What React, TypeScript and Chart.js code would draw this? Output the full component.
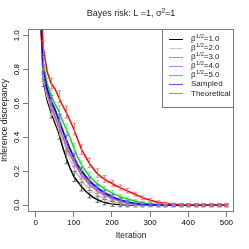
import React, { useEffect, useRef } from 'react';
import { Chart, registerables } from 'chart.js';

Chart.register(...registerables);

const FONT = '"Liberation Sans", Arial, Helvetica, sans-serif';

const iterations = [10, 20, 30, 40, 50, 60, 70, 80, 90, 100, 110, 120, 130, 140, 150, 160, 170, 180, 190, 200,
  210, 220, 230, 240, 250, 260, 270, 280, 290, 300, 310, 320, 330, 340, 350, 360, 370, 380, 390, 400,
  410, 420, 430, 440, 450, 460, 470, 480, 490, 500];

const xTicks = [0, 100, 200, 300, 400, 500];
const yTicks = [0, 0.2, 0.4, 0.6, 0.8, 1.0];
const yTickLabels = ['0.0', '0.2', '0.4', '0.6', '0.8', '1.0'];

const seriesLabels = ['1.0', '2.0', '3.0', '4.0', '5.0', 'Sampled', 'Theoretical'];
const seriesColors = ['#000000', '#c8c8c8', '#b86868', '#a040ff', '#11dd11', '#0000ff', '#ff0000'];
const legendColors = ['#000000', '#cccccc', '#cc8c8c', '#c080ff', '#33ee33', '#5555ff', '#ff7070'];
const errColors = ['rgba(70,70,70,0.8)', 'rgba(170,170,170,0.8)', 'rgba(190,120,120,0.8)', 'rgba(190,130,255,0.8)', 'rgba(90,230,90,0.7)', 'rgba(90,90,255,0.7)', 'rgba(255,100,100,0.8)'];

const beta1 = [1.30, 0.74, 0.62, 0.55, 0.49, 0.43, 0.35, 0.28, 0.22, 0.17, 0.14, 0.11, 0.085, 0.065, 0.048, 0.035, 0.025, 0.018, 0.012, 0.008,
  0.005, 0.004, 0.003, 0.002, 0.002, 0.001, 0.001, 0.001, 0.001, 0.001, 0, 0, 0, 0, 0, 0, 0, 0, 0, 0,
  0, 0, 0, 0, 0, 0, 0, 0, 0, 0];
const beta2 = [1.25, 0.76, 0.64, 0.57, 0.51, 0.45, 0.39, 0.33, 0.27, 0.22, 0.18, 0.15, 0.12, 0.097, 0.078, 0.062, 0.049, 0.038, 0.029, 0.022,
  0.016, 0.012, 0.009, 0.007, 0.005, 0.004, 0.003, 0.002, 0.002, 0.001, 0.001, 0.001, 0, 0, 0, 0, 0, 0, 0, 0,
  0, 0, 0, 0, 0, 0, 0, 0, 0, 0];
const beta3 = [1.25, 0.77, 0.66, 0.59, 0.53, 0.47, 0.41, 0.355, 0.30, 0.255, 0.215, 0.18, 0.15, 0.125, 0.105, 0.088, 0.073, 0.06, 0.049, 0.04,
  0.032, 0.025, 0.019, 0.014, 0.01, 0.007, 0.005, 0.004, 0.003, 0.002, 0.002, 0.001, 0.001, 0.001, 0, 0, 0, 0, 0, 0,
  0, 0, 0, 0, 0, 0, 0, 0, 0, 0];
const beta4 = [1.25, 0.79, 0.68, 0.61, 0.56, 0.50, 0.44, 0.38, 0.325, 0.275, 0.23, 0.195, 0.165, 0.14, 0.12, 0.10, 0.084, 0.07, 0.058, 0.047,
  0.038, 0.03, 0.023, 0.017, 0.013, 0.009, 0.007, 0.005, 0.003, 0.002, 0.002, 0.001, 0.001, 0.001, 0, 0, 0, 0, 0, 0,
  0, 0, 0, 0, 0, 0, 0, 0, 0, 0];
const beta5 = [1.28, 0.84, 0.72, 0.65, 0.60, 0.56, 0.50, 0.45, 0.40, 0.34, 0.285, 0.24, 0.205, 0.175, 0.15, 0.13, 0.113, 0.098, 0.085, 0.073,
  0.062, 0.052, 0.044, 0.037, 0.031, 0.025, 0.02, 0.016, 0.012, 0.009, 0.007, 0.005, 0.004, 0.003, 0.002, 0.001, 0.001, 0, 0, 0,
  0, 0, 0, 0, 0, 0, 0, 0, 0, 0];
const sampled = [1.25, 0.80, 0.69, 0.62, 0.57, 0.51, 0.45, 0.39, 0.335, 0.285, 0.24, 0.205, 0.175, 0.148, 0.126, 0.107, 0.09, 0.076, 0.063, 0.052,
  0.042, 0.034, 0.027, 0.021, 0.016, 0.012, 0.009, 0.006, 0.004, 0.003, 0.002, 0.001, 0.001, 0, 0, 0, 0, 0, 0, 0,
  0, 0, 0, 0, 0, 0, 0, 0, 0, 0];
const theoretical = [1.30, 0.93, 0.79, 0.72, 0.69, 0.64, 0.59, 0.55, 0.50, 0.45, 0.39, 0.33, 0.29, 0.25, 0.22, 0.19, 0.17, 0.155, 0.14, 0.13,
  0.115, 0.105, 0.095, 0.085, 0.075, 0.065, 0.055, 0.045, 0.037, 0.03, 0.024, 0.018, 0.014, 0.011, 0.008, 0.006, 0.005, 0.004, 0.003, 0.002,
  0.001, 0.001, 0.001, 0, 0, 0, 0, 0, 0, 0];

const errIters = [20, 40, 60, 80, 100, 120, 140, 160, 180, 200, 220, 240, 260, 280, 300, 320, 340, 360, 380, 400, 420, 440, 460, 480, 500];
const err1 = [0.04, 0.035, 0.04, 0.035, 0.03, 0.026, 0.022, 0.018, 0.016, 0.014, 0.013, 0.012, 0.011, 0.011, 0.01, 0.01, 0.01, 0.01, 0.01, 0.01, 0.01, 0.01, 0.01, 0.01, 0.01];
const err2 = [0.04, 0.04, 0.035, 0.035, 0.03, 0.026, 0.022, 0.018, 0.016, 0.014, 0.012, 0.011, 0.01, 0.01, 0.009, 0.009, 0.008, 0.008, 0.008, 0.008, 0.008, 0.008, 0.008, 0.008, 0.008];
const err3 = [0.04, 0.035, 0.035, 0.03, 0.028, 0.025, 0.02, 0.018, 0.015, 0.013, 0.012, 0.01, 0.009, 0.008, 0.008, 0.007, 0.007, 0.007, 0.007, 0.007, 0.007, 0.007, 0.007, 0.007, 0.007];
const err4 = [0.04, 0.035, 0.03, 0.03, 0.027, 0.024, 0.02, 0.017, 0.015, 0.013, 0.011, 0.01, 0.009, 0.008, 0.007, 0.007, 0.006, 0.006, 0.006, 0.006, 0.006, 0.006, 0.006, 0.006, 0.006];
const err5 = [0.035, 0.03, 0.03, 0.028, 0.025, 0.022, 0.02, 0.017, 0.015, 0.013, 0.011, 0.01, 0.009, 0.008, 0.007, 0.006, 0.006, 0.005, 0.005, 0.005, 0.005, 0.005, 0.005, 0.005, 0.005];
const err6 = [0.03, 0.028, 0.026, 0.024, 0.022, 0.02, 0.018, 0.016, 0.014, 0.012, 0.01, 0.009, 0.008, 0.007, 0.006, 0.006, 0.005, 0.005, 0.005, 0.005, 0.005, 0.005, 0.005, 0.005, 0.005];
const err7 = [0.04, 0.03, 0.035, 0.035, 0.035, 0.03, 0.028, 0.025, 0.02, 0.018, 0.015, 0.013, 0.012, 0.01, 0.009, 0.008, 0.008, 0.007, 0.007, 0.007, 0.007, 0.007, 0.007, 0.007, 0.007];

const seriesValues = [beta1, beta2, beta3, beta4, beta5, sampled, theoretical];
const seriesErrors = [err1, err2, err3, err4, err5, err6, err7];

const overlay = {
  id: 'overlay',
  afterDatasetsDraw(chart: any) {
    const { ctx, chartArea, scales } = chart;
    const xs = scales.x;
    const ys = scales.y;
    ctx.save();
    ctx.beginPath();
    ctx.rect(chartArea.left, chartArea.top, chartArea.right - chartArea.left, chartArea.bottom - chartArea.top);
    ctx.clip();
    ctx.lineWidth = 1;
    for (let s = 0; s < seriesValues.length; s++) {
      ctx.strokeStyle = errColors[s];
      const vals = seriesValues[s];
      const errs = seriesErrors[s];
      for (let j = 0; j < errIters.length; j++) {
        const idx = iterations.indexOf(errIters[j]);
        const v = vals[idx];
        const e = errs[j];
        const px = Math.round(xs.getPixelForValue(errIters[j])) + 0.5;
        const y1 = ys.getPixelForValue(v - e);
        const y2 = ys.getPixelForValue(v + e);
        ctx.beginPath();
        ctx.moveTo(px, y1);
        ctx.lineTo(px, y2);
        ctx.moveTo(px - 2, y1);
        ctx.lineTo(px + 2, y1);
        ctx.moveTo(px - 2, y2);
        ctx.lineTo(px + 2, y2);
        ctx.stroke();
      }
    }
    ctx.restore();
  },
  afterDraw(chart: any) {
    const { ctx, chartArea, scales } = chart;
    const xs = scales.x;
    const ys = scales.y;
    const cx = (chartArea.left + chartArea.right) / 2;
    const cy = (chartArea.top + chartArea.bottom) / 2;
    ctx.save();
    // box
    ctx.strokeStyle = '#7a7a7a';
    ctx.lineWidth = 1;
    ctx.strokeRect(chartArea.left + 0.5, chartArea.top + 0.5, chartArea.right - chartArea.left - 1, chartArea.bottom - chartArea.top - 1);

    // title with superscript
    ctx.fillStyle = '#222';
    ctx.textBaseline = 'middle';
    ctx.textAlign = 'left';
    const tA = 'Bayes risk: L =1, σ';
    const tB = '2';
    const tC = '=1';
    ctx.font = `9px ${FONT}`;
    const wA = ctx.measureText(tA).width;
    const wC = ctx.measureText(tC).width;
    ctx.font = `6.5px ${FONT}`;
    const wB = ctx.measureText(tB).width;
    const tx = cx - (wA + wB + wC) / 2;
    ctx.font = `9px ${FONT}`;
    ctx.fillText(tA, tx, 14);
    ctx.fillText(tC, tx + wA + wB, 14);
    ctx.font = `6.5px ${FONT}`;
    ctx.fillText(tB, tx + wA, 11);

    // x tick labels
    ctx.fillStyle = '#000';
    ctx.font = `8px ${FONT}`;
    ctx.textAlign = 'center';
    for (const v of xTicks) {
      ctx.fillText(String(v), xs.getPixelForValue(v), 222.5);
    }
    // y tick labels (rotated)
    for (let i = 0; i < yTicks.length; i++) {
      const py = ys.getPixelForValue(yTicks[i]);
      ctx.save();
      ctx.translate(17, py);
      ctx.rotate(-Math.PI / 2);
      ctx.fillText(yTickLabels[i], 0, 0);
      ctx.restore();
    }
    // axis titles
    ctx.fillStyle = '#222';
    ctx.font = `8.5px ${FONT}`;
    ctx.fillText('Iteration', cx, 236);
    ctx.save();
    ctx.translate(4.5, cy);
    ctx.rotate(-Math.PI / 2);
    ctx.fillText('Inference discrepancy', 0, 0);
    ctx.restore();

    // legend
    const lx = 162;
    const ly = chartArea.top;
    const lw = chartArea.right - lx;
    const lh = 78;
    ctx.fillStyle = '#ffffff';
    ctx.fillRect(lx, ly, lw, lh);
    ctx.strokeStyle = '#7a7a7a';
    ctx.lineWidth = 1;
    ctx.strokeRect(lx + 0.5, ly + 0.5, lw - 1, lh);
    ctx.textAlign = 'left';
    for (let i = 0; i < seriesLabels.length; i++) {
      const ey = 39 + i * 9.05;
      const ly2 = Math.round(ey) + 0.5;
      ctx.strokeStyle = legendColors[i];
      ctx.lineWidth = 1;
      ctx.beginPath();
      ctx.moveTo(169, ly2);
      ctx.lineTo(183, ly2);
      ctx.stroke();
      ctx.fillStyle = '#222';
      if (i < 5) {
        ctx.font = `8px ${FONT}`;
        ctx.fillText('β', 191, ey);
        const wb = ctx.measureText('β').width;
        ctx.font = `5.5px ${FONT}`;
        ctx.fillText('1/2', 191 + wb + 0.5, ey - 2.5);
        const ws = ctx.measureText('1/2').width;
        ctx.font = `8px ${FONT}`;
        ctx.fillText('=' + seriesLabels[i], 191 + wb + 0.5 + ws, ey);
      } else {
        ctx.font = `8px ${FONT}`;
        ctx.fillText(seriesLabels[i], 191, ey);
      }
    }
    ctx.restore();
  },
};

export default function App() {
  const ref = useRef<HTMLCanvasElement | null>(null);
  useEffect(() => {
    document.body.style.margin = '0';
    const canvas = ref.current;
    if (!canvas) return;
    const chart = new Chart(canvas, {
      type: 'line',
      data: {
        datasets: seriesValues.map((vals, i) => ({
          label: seriesLabels[i],
          data: iterations.map((x, k) => ({ x, y: vals[k] })),
          borderColor: seriesColors[i],
          backgroundColor: seriesColors[i],
          borderWidth: 1.5,
          pointRadius: 0,
          tension: 0,
          fill: false,
          order: seriesValues.length - 1 - i,
        })),
      },
      options: {
        animation: false,
        responsive: false,
        maintainAspectRatio: false,
        devicePixelRatio: 1,
        layout: { padding: { top: 29, right: 15, left: 0, bottom: 0 } },
        plugins: { legend: { display: false }, title: { display: false }, tooltip: { enabled: false } },
        scales: {
          x: {
            type: 'linear',
            min: -20,
            max: 520,
            afterBuildTicks: (s: any) => { s.ticks = xTicks.map((v) => ({ value: v })); },
            afterFit: (s: any) => { s.height = 37; },
            ticks: { display: false },
            grid: { drawOnChartArea: false, drawTicks: true, tickLength: 5, color: '#7a7a7a', lineWidth: 1 },
            border: { display: false },
          },
          y: {
            type: 'linear',
            min: -0.04,
            max: 1.04,
            afterBuildTicks: (s: any) => { s.ticks = yTicks.map((v) => ({ value: v })); },
            afterFit: (s: any) => { s.width = 28; },
            ticks: { display: false },
            grid: { drawOnChartArea: false, drawTicks: true, tickLength: 5, color: '#7a7a7a', lineWidth: 1 },
            border: { display: false },
          },
        },
      },
      plugins: [overlay],
    });
    return () => chart.destroy();
  }, []);
  return <canvas ref={ref} width={249} height={249} style={{ display: 'block', width: 249, height: 249 }} />;
}
